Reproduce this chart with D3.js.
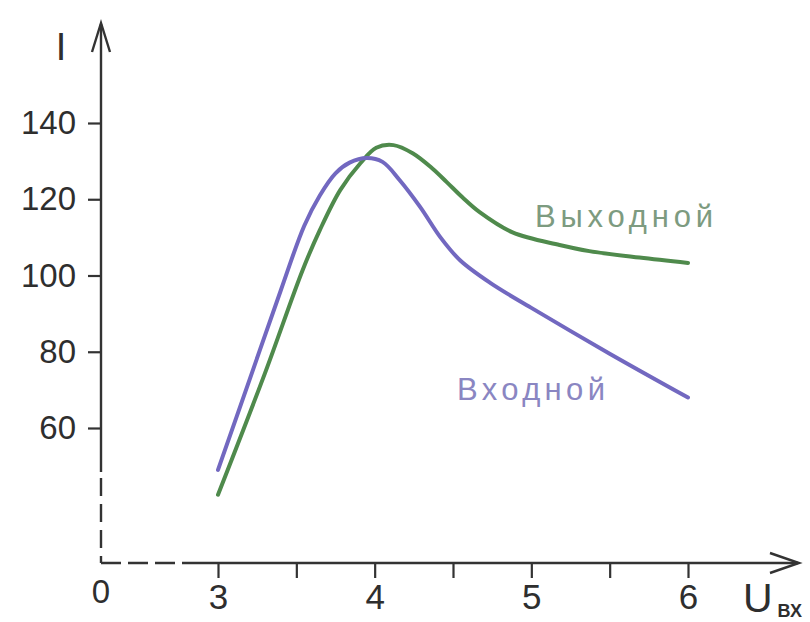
<!DOCTYPE html>
<html lang="ru">
<head>
<meta charset="utf-8">
<title>Входной и выходной ток</title>
<script src="https://d3js.org/d3.v7.min.js"></script>
<style>
  body { margin: 0; background: #fff; }
  svg { display: block; font-family: "Liberation Sans", Arial, sans-serif; }
  .tick text { fill: #2e2e2e; }
  .tick line { stroke: #333; stroke-width: 2.2; }
</style>
</head>
<body>
<svg width="810" height="622"></svg>
<script>
// data
var xTicks = [3, 3.5, 4, 4.5, 5, 5.5, 6];
var yTicks = [60, 80, 100, 120, 140];

var inputU = [3.0, 3.2, 3.4, 3.55, 3.65, 3.75, 3.84, 3.95, 4.05, 4.16, 4.29, 4.42, 4.545, 4.74, 5.0, 5.5, 6.0];
var inputI = [49, 72.5, 96, 113, 121, 126.8, 129.6, 130.8, 129.8, 125, 118, 110, 104, 98, 91.5, 79.5, 68];

var outputU = [3.0, 3.3, 3.54, 3.65, 3.78, 3.91, 4.01, 4.12, 4.245, 4.37, 4.46, 4.56, 4.67, 4.88, 5.18, 5.37, 5.69, 6.0];
var outputI = [42.5, 74.4, 101.4, 111.9, 122.4, 129.5, 133.5, 134.2, 132, 128, 124.5, 120.5, 116.6, 111.3, 108, 106.4, 104.7, 103.3];

var svg = d3.select("svg");

// origin of the broken axes
var ox = 101, oy = 563;

var x = d3.scaleLinear()
    .domain([3, 6])
    .range([218, 688]);

var y = d3.scaleLinear()
    .domain([60, 140])
    .range([428, 123]);

var axisColor = "#333";

// y axis: solid part, dashed part near the origin, arrow
svg.append("line")
    .attr("x1", ox).attr("x2", ox)
    .attr("y1", 24).attr("y2", 472)
    .attr("stroke", axisColor).attr("stroke-width", 2.4);
svg.append("line")
    .attr("x1", ox).attr("x2", ox)
    .attr("y1", 478).attr("y2", oy)
    .attr("stroke", axisColor).attr("stroke-width", 2.4)
    .attr("stroke-dasharray", "18,8");
svg.append("path")
    .attr("d", "M" + (ox - 9) + ",52L" + ox + ",23L" + (ox + 9) + ",52")
    .attr("fill", "none").attr("stroke", axisColor).attr("stroke-width", 2.4);

// x axis: dashed part from origin, solid part, arrow
svg.append("line")
    .attr("x1", ox).attr("x2", 183)
    .attr("y1", oy).attr("y2", oy)
    .attr("stroke", axisColor).attr("stroke-width", 2.4)
    .attr("stroke-dasharray", "20,7");
svg.append("line")
    .attr("x1", 183).attr("x2", 798)
    .attr("y1", oy).attr("y2", oy)
    .attr("stroke", axisColor).attr("stroke-width", 2.4);
svg.append("path")
    .attr("d", "M770,553L799," + oy + "L770,573")
    .attr("fill", "none").attr("stroke", axisColor).attr("stroke-width", 2.4);

// ticks
var gy = svg.append("g")
    .attr("transform", "translate(" + ox + ",0)")
    .call(d3.axisLeft(y).tickValues(yTicks).tickSize(13).tickPadding(12));
gy.select(".domain").remove();
gy.selectAll("text").attr("font-size", 33).attr("font-family", "Liberation Sans, Arial, sans-serif");

var gx = svg.append("g")
    .attr("transform", "translate(0," + oy + ")")
    .call(d3.axisBottom(x).tickValues(xTicks).tickSize(15).tickPadding(6)
        .tickFormat(function(d) { return d % 1 === 0 ? d : ""; }));
gx.select(".domain").remove();
gx.selectAll("text").attr("font-size", 35).attr("font-family", "Liberation Sans, Arial, sans-serif");

// origin and axis names
svg.append("text")
    .attr("x", ox).attr("y", 603)
    .attr("text-anchor", "middle")
    .attr("font-size", 33).attr("fill", "#2e2e2e")
    .text("0");
svg.append("text")
    .attr("x", 61).attr("y", 60)
    .attr("text-anchor", "middle")
    .attr("font-size", 38).attr("fill", "#2e2e2e")
    .text("I");
var ulabel = svg.append("text")
    .attr("x", 743).attr("y", 612)
    .attr("font-size", 41).attr("fill", "#2e2e2e");
ulabel.append("tspan").text("U");
ulabel.append("tspan")
    .attr("dx", 5).attr("dy", 5)
    .attr("font-size", 18).attr("font-weight", "bold")
    .text("ВХ");

// curves
var line = d3.line()
    .x(function(d) { return x(d[0]); })
    .y(function(d) { return y(d[1]); })
    .curve(d3.curveCatmullRom.alpha(0.5));

svg.append("path")
    .datum(d3.zip(outputU, outputI))
    .attr("fill", "none")
    .attr("stroke", "#4f8a4c")
    .attr("stroke-width", 4)
    .attr("stroke-linecap", "round")
    .attr("d", line);

svg.append("path")
    .datum(d3.zip(inputU, inputI))
    .attr("fill", "none")
    .attr("stroke", "#7268c0")
    .attr("stroke-width", 4)
    .attr("stroke-linecap", "round")
    .attr("d", line);

// curve names
svg.append("text")
    .attr("x", 535).attr("y", 227)
    .attr("font-size", 31)
    .attr("textLength", 178)
    .attr("fill", "#7d9b80")
    .text("Выходной");
svg.append("text")
    .attr("x", 457).attr("y", 400)
    .attr("font-size", 31)
    .attr("textLength", 148)
    .attr("fill", "#8a86c2")
    .text("Входной");
</script>
</body>
</html>
